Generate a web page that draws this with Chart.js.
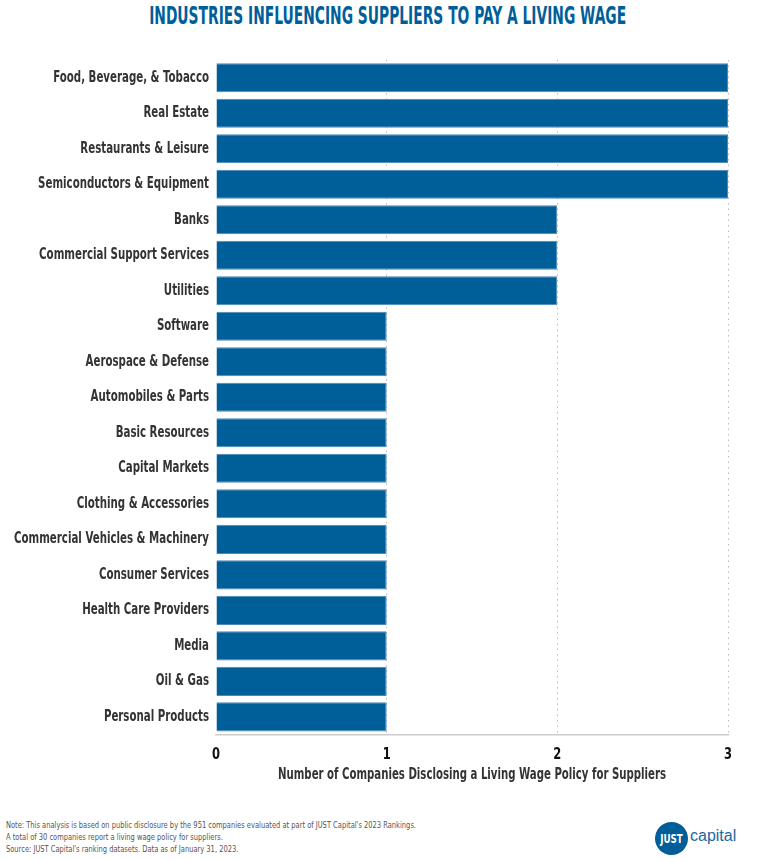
<!DOCTYPE html>
<html><head><meta charset="utf-8">
<script src="https://cdn.jsdelivr.net/npm/chart.js@4.4.0/dist/chart.umd.min.js"></script>
<style>
html,body{margin:0;padding:0;background:#fff;width:768px;height:860px;overflow:hidden;}
body{position:relative;font-family:'DejaVu Sans Condensed','DejaVu Sans',sans-serif;}
#title{position:absolute;top:1px;left:0;width:768px;text-align:center;white-space:nowrap;}
#title span{display:inline-block;color:#005f99;font-weight:bold;font-size:25px;transform-origin:50% 50%;}
#wrap{position:absolute;left:0;top:0;width:768px;height:800px;}
#note{position:absolute;left:6px;top:819px;font-size:9.5px;line-height:12px;color:#555;transform-origin:0 0;white-space:nowrap;}
#logo{position:absolute;left:655px;top:822px;width:33px;height:33px;border-radius:50%;background:#005f99;}
#logo span{position:absolute;left:0;top:0;width:33px;line-height:33px;text-align:center;color:#fff;font-weight:bold;font-size:13px;transform:scaleX(0.75);}
#logotext{position:absolute;left:690px;top:827px;color:#1d68a0;font-family:'Liberation Sans',sans-serif;font-size:16px;}
</style></head>
<body>
<div id="title"><span id="tt">INDUSTRIES INFLUENCING SUPPLIERS TO PAY A LIVING WAGE</span></div>
<div id="wrap"><canvas id="c"></canvas></div>
<div id="note">Note: This analysis is based on public disclosure by the 951 companies evaluated at part of JUST Capital's 2023 Rankings.<br>A total of 30 companies report a living wage policy for suppliers.<br>Source: JUST Capital's ranking datasets. Data as of January 31, 2023.</div>
<div id="logo"><span>JUST</span></div>
<div id="logotext">capital</div>
<script>
const categories = ["Food, Beverage, & Tobacco","Real Estate","Restaurants & Leisure","Semiconductors & Equipment","Banks","Commercial Support Services","Utilities","Software","Aerospace & Defense","Automobiles & Parts","Basic Resources","Capital Markets","Clothing & Accessories","Commercial Vehicles & Machinery","Consumer Services","Health Care Providers","Media","Oil & Gas","Personal Products"];
const values = [3,3,3,3,2,2,2,1,1,1,1,1,1,1,1,1,1,1,1];
const xTicks = [0,1,2,3];
const xTitle = "Number of Companies Disclosing a Living Wage Policy for Suppliers";
const FONT = "'DejaVu Sans Condensed','DejaVu Sans',sans-serif";

// condense HTML texts to match the narrow reference typeface
(function(){
  const tt = document.getElementById('tt');
  const w = tt.getBoundingClientRect().width;
  tt.style.transform = 'scaleX(' + (477 / w) + ')';
  const note = document.getElementById('note');
  const mc = document.createElement('canvas').getContext('2d');
  mc.font = '9.5px ' + FONT;
  const nw = mc.measureText("Note: This analysis is based on public disclosure by the 951 companies evaluated at part of JUST Capital's 2023 Rankings.").width;
  note.style.transform = 'scaleX(' + (410 / nw) + ')';
})();

const condense = {
  id: 'condense',
  beforeDraw(chart) {
    if (chart._condensed) return;
    chart._condensed = true;
    const ctx = chart.ctx;
    const y = chart.scales.y, x = chart.scales.x;
    ctx.save();
    ctx.font = 'bold 16px ' + FONT;
    const yw = Math.max(...categories.map(c => ctx.measureText(c).width));
    const tw = ctx.measureText(xTitle).width;
    ctx.restore();
    const sy = 195 / yw;
    y._computeLabelArea = () => undefined;
    const origY = y.drawLabels.bind(y);
    y.drawLabels = function(area) {
      const p = y.right - y.options.ticks.padding;
      ctx.save(); ctx.translate(p, 0); ctx.scale(sy, 1); ctx.translate(-p, 0);
      origY(area); ctx.restore();
    };
    const sx = 1.07 * 389 / tw;
    const origT = x.drawTitle.bind(x);
    x.drawTitle = function() {
      const p = (x.left + x.right) / 2;
      ctx.save(); ctx.translate(p, -7); ctx.scale(sx, 1); ctx.translate(-p, 0);
      origT(); ctx.restore();
    };
    x._computeLabelArea = () => undefined;
    x.drawLabels = function(area) {
      const items = x.getLabelItems(area);
      for (const it of items) {
        const tx = it.options.translation[0], ty = it.options.translation[1];
        ctx.save();
        ctx.translate(tx, ty + 3);
        ctx.scale(0.8, 1);
        ctx.font = it.font.string;
        ctx.fillStyle = it.options.color;
        ctx.textAlign = it.options.textAlign;
        ctx.textBaseline = it.options.textBaseline;
        ctx.fillText(it.label, 0, it.textOffset || 0);
        ctx.restore();
      }
    };
  }
};

new Chart(document.getElementById('c'), {
  type: 'bar',
  data: { labels: categories, datasets: [{ data: values, backgroundColor: '#005f99', borderColor: '#4a88ba', borderWidth: 1, barPercentage: 0.82, categoryPercentage: 1.0 }] },
  options: {
    indexAxis: 'y', responsive: true, maintainAspectRatio: false, animation: false,
    layout: { padding: { top: 60, right: 40, left: 0, bottom: 5 } },
    plugins: { legend: { display: false }, tooltip: { enabled: false } },
    scales: {
      x: { min: 0, max: 3, afterBuildTicks: s => { s.ticks = xTicks.map(v => ({ value: v })); },
        grid: { color: ctx => ctx.tick && ctx.tick.value === 0 ? 'rgba(0,0,0,0)' : '#bbbbbb', lineWidth: 1, drawTicks: false, tickLength: 0 },
        border: { display: true, color: '#cccccc', width: 1.5, dash: [1.5, 4] },
        ticks: { color: '#111', padding: 8, font: { family: FONT, size: 16, weight: 'bold' } },
        title: { display: true, text: xTitle, color: '#333', padding: { top: 2, bottom: 4 }, font: { family: FONT, size: 16, weight: 'bold' } } },
      y: { afterFit: s => { s.width = 216; },
        grid: { display: false, drawTicks: false }, border: { display: false },
        ticks: { color: '#333', padding: 7, font: { family: FONT, size: 16, weight: 'bold' } } }
    }
  },
  plugins: [condense]
});
</script>
</body></html>
